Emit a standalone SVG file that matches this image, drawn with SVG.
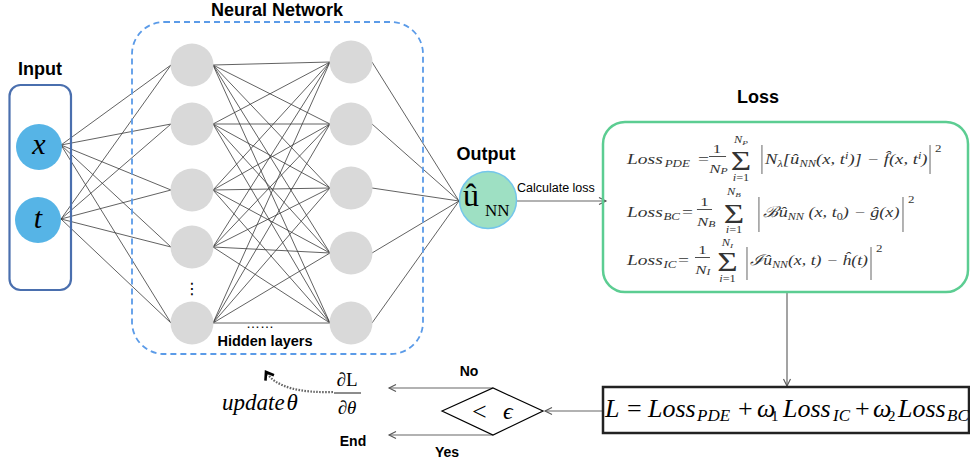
<svg xmlns="http://www.w3.org/2000/svg" width="970" height="466" viewBox="0 0 970 466">
<defs>
<marker id="ah" markerWidth="12" markerHeight="12" refX="8" refY="4" orient="auto" markerUnits="userSpaceOnUse" overflow="visible"><path d="M1,0.5 L8,4 L1,7.5" fill="none" stroke="#555" stroke-width="1.1"/></marker>
<marker id="chev" markerWidth="14" markerHeight="14" refX="7" refY="5" orient="auto" markerUnits="userSpaceOnUse" overflow="visible"><path d="M0,0 L7,5 L0,10" fill="none" stroke="#000" stroke-width="2.6"/></marker>
</defs>
<style>
.t{font-family:"Liberation Sans",Arial,sans-serif;font-weight:bold;fill:#000}
.tn{font-family:"Liberation Sans",Arial,sans-serif;font-weight:normal;fill:#000}
.m{font-family:"Liberation Serif","DejaVu Serif",serif;font-style:italic;fill:#000}
.r{font-family:"Liberation Serif","DejaVu Serif",serif;font-style:normal;fill:#000}
.lf text{fill:#333}
.w{stroke:#3a3a3a;stroke-width:0.8}
.hn{fill:#d9d9d9}
.ar{stroke:#666;stroke-width:1.2;fill:none;marker-end:url(#ah)}
.bar{stroke:#222;stroke-width:0.6}
.fl{stroke:#222;stroke-width:0.7}
</style>
<rect width="970" height="466" fill="#fff"/>

<g id="connectors">
<g class="w">
<line x1="61" y1="145" x2="171" y2="65"/><line x1="61" y1="145" x2="171" y2="124"/><line x1="61" y1="145" x2="171" y2="190"/><line x1="61" y1="145" x2="171" y2="247"/><line x1="61" y1="145" x2="171" y2="323"/>
<line x1="61" y1="219" x2="171" y2="65"/><line x1="61" y1="219" x2="171" y2="124"/><line x1="61" y1="219" x2="171" y2="190"/><line x1="61" y1="219" x2="171" y2="247"/><line x1="61" y1="219" x2="171" y2="323"/>
<line x1="213" y1="65" x2="330" y2="62"/><line x1="213" y1="65" x2="330" y2="124"/><line x1="213" y1="65" x2="330" y2="188"/><line x1="213" y1="65" x2="330" y2="253"/><line x1="213" y1="65" x2="330" y2="323"/>
<line x1="213" y1="124" x2="330" y2="62"/><line x1="213" y1="124" x2="330" y2="124"/><line x1="213" y1="124" x2="330" y2="188"/><line x1="213" y1="124" x2="330" y2="253"/><line x1="213" y1="124" x2="330" y2="323"/>
<line x1="213" y1="190" x2="330" y2="62"/><line x1="213" y1="190" x2="330" y2="124"/><line x1="213" y1="190" x2="330" y2="188"/><line x1="213" y1="190" x2="330" y2="253"/><line x1="213" y1="190" x2="330" y2="323"/>
<line x1="213" y1="247" x2="330" y2="62"/><line x1="213" y1="247" x2="330" y2="124"/><line x1="213" y1="247" x2="330" y2="188"/><line x1="213" y1="247" x2="330" y2="253"/><line x1="213" y1="247" x2="330" y2="323"/>
<line x1="213" y1="323" x2="330" y2="62"/><line x1="213" y1="323" x2="330" y2="124"/><line x1="213" y1="323" x2="330" y2="188"/><line x1="213" y1="323" x2="330" y2="253"/><line x1="213" y1="323" x2="330" y2="323"/>
<line x1="372" y1="62" x2="459" y2="201"/><line x1="372" y1="124" x2="459" y2="201"/><line x1="372" y1="188" x2="459" y2="201"/><line x1="372" y1="253" x2="459" y2="201"/><line x1="372" y1="323" x2="459" y2="201"/>
</g>
<line class="ar" x1="517" y1="201" x2="606" y2="201"/>
<line class="ar" x1="787" y1="293" x2="787" y2="386"/>
<line class="ar" x1="602" y1="411" x2="545" y2="411"/>
<line class="ar" x1="493" y1="388" x2="389" y2="388"/>
<line class="ar" x1="493" y1="435" x2="389" y2="435"/>
<path d="M333,392 C302,393 276,388 266,372" fill="none" stroke="#666" stroke-width="2.2" stroke-dasharray="1.6,1.4" marker-end="url(#chev)"/>
<text class="tn" x="517" y="192" font-size="12.5">Calculate loss</text>
<text class="t" x="469" y="376" font-size="14" text-anchor="middle">No</text>
<text class="t" x="447" y="457" font-size="14" text-anchor="middle">Yes</text>
</g>

<g id="input">
<text class="t" x="40" y="75" font-size="18" text-anchor="middle">Input</text>
<rect x="9.5" y="85" width="61.5" height="205" rx="11" fill="none" stroke="#4a6fae" stroke-width="2.2"/>
<circle cx="39" cy="147" r="23" fill="#56b4e6"/>
<circle cx="38" cy="220" r="23" fill="#56b4e6"/>
<text class="m" x="39" y="154" font-size="30" text-anchor="middle">x</text>
<text class="m" x="38" y="228" font-size="30" text-anchor="middle">t</text>
</g>

<g id="neural-network">
<text class="t" x="277" y="16" font-size="18" text-anchor="middle">Neural Network</text>
<rect x="132" y="22" width="291" height="332" rx="32" fill="none" stroke="#5b9be8" stroke-width="1.8" stroke-dasharray="6,4"/>
<g class="hn">
<circle cx="192" cy="65" r="21.5"/><circle cx="192" cy="124" r="21.5"/><circle cx="192" cy="190" r="21.5"/><circle cx="192" cy="247" r="21.5"/><circle cx="192" cy="323" r="21.5"/>
<circle cx="351" cy="62" r="21.5"/><circle cx="351" cy="124" r="21.5"/><circle cx="351" cy="188" r="21.5"/><circle cx="351" cy="253" r="21.5"/><circle cx="351" cy="323" r="21.5"/>
</g>
<text x="192" y="294" font-family="DejaVu Sans,sans-serif" font-size="16" text-anchor="middle">⋮</text>
<text class="tn" x="260" y="328" font-size="14" text-anchor="middle">……</text>
<text class="t" x="265" y="346" font-size="14.5" text-anchor="middle">Hidden layers</text>
</g>

<g id="output">
<text class="t" x="486" y="160" font-size="18" text-anchor="middle">Output</text>
<circle cx="488" cy="200" r="28.5" fill="#9ee0c3" stroke="#74c6ea" stroke-width="1.5"/>
<text class="r" x="463" y="206" font-size="32">û</text>
<text class="r" x="485" y="216" font-size="17">NN</text>
</g>

<g id="loss">
<text class="t" x="758" y="103" font-size="18" text-anchor="middle">Loss</text>
<rect x="603" y="122" width="365" height="170" rx="22" fill="none" stroke="#5ccd92" stroke-width="2.5"/>
<g transform="translate(627,164) scale(1.3,1)" class="m lf" font-size="15">
<text x="0" y="0">Loss</text>
<text x="29" y="3" font-size="10">PDE</text>
<text x="54.6" y="0" class="r">=</text>
<text x="69.2" y="-11" class="r" font-size="13" text-anchor="middle">1</text>
<line class="fl" x1="63.1" y1="-7.5" x2="76.2" y2="-7.5"/>
<text x="63.3" y="8.5" font-size="13">N<tspan font-size="9" dy="2">P</tspan></text>
<text x="87.7" y="6" class="r" font-size="27" text-anchor="middle">Σ</text>
<text x="87.7" y="-21" font-size="9.5" text-anchor="middle">N<tspan font-size="7" dy="1.5">P</tspan></text>
<text x="87.7" y="17" class="r" font-size="9.5" text-anchor="middle"><tspan font-style="italic">i</tspan>=1</text>
<line class="bar" x1="103.8" y1="-19" x2="103.8" y2="10"/>
<text x="106.2" y="0" textLength="125" lengthAdjust="spacingAndGlyphs">N<tspan font-size="10" dy="2.5">λ</tspan><tspan dy="-2.5">[û</tspan><tspan font-size="10" dy="2.5">NN</tspan><tspan dy="-2.5">(x, t</tspan><tspan font-size="10" dy="-5">i</tspan><tspan dy="5">)] − f̂(x, t</tspan><tspan font-size="10" dy="-5">i</tspan><tspan dy="5">)</tspan></text>
<line class="bar" x1="233.1" y1="-19" x2="233.1" y2="10"/>
<text x="236.9" y="-12" class="r" font-size="10">2</text>
</g>
<g transform="translate(627,217) scale(1.3,1)" class="m lf" font-size="15">
<text x="0" y="0">Loss</text>
<text x="28" y="3" font-size="10">BC</text>
<text x="42.3" y="0" class="r">=</text>
<text x="59.6" y="-11" class="r" font-size="13" text-anchor="middle">1</text>
<line class="fl" x1="53.8" y1="-7.5" x2="65.4" y2="-7.5"/>
<text x="53.8" y="8.5" font-size="13">N<tspan font-size="9" dy="2">B</tspan></text>
<text x="82.3" y="6" class="r" font-size="27" text-anchor="middle">Σ</text>
<text x="82.3" y="-22" font-size="9.5" text-anchor="middle">N<tspan font-size="7" dy="1.5">B</tspan></text>
<text x="82.3" y="16" class="r" font-size="9.5" text-anchor="middle"><tspan font-style="italic">i</tspan>=1</text>
<line class="bar" x1="101.5" y1="-20" x2="101.5" y2="15"/>
<text x="104.6" y="0" textLength="105" lengthAdjust="spacingAndGlyphs">ℬû<tspan font-size="10" dy="2.5">NN</tspan><tspan dy="-2.5"> (x, t</tspan><tspan font-size="10" dy="2.5" font-style="normal">0</tspan><tspan dy="-2.5">) − ĝ(x)</tspan></text>
<line class="bar" x1="212.3" y1="-20" x2="212.3" y2="15"/>
<text x="216.2" y="-14" class="r" font-size="10">2</text>
</g>
<g transform="translate(627,265) scale(1.3,1)" class="m lf" font-size="15">
<text x="0" y="0">Loss</text>
<text x="28" y="3" font-size="10">IC</text>
<text x="39.2" y="0" class="r">=</text>
<text x="58" y="-11" class="r" font-size="13" text-anchor="middle">1</text>
<line class="fl" x1="52.3" y1="-7.5" x2="63.8" y2="-7.5"/>
<text x="52.5" y="8.5" font-size="13">N<tspan font-size="9" dy="2">I</tspan></text>
<text x="77.3" y="6" class="r" font-size="27" text-anchor="middle">Σ</text>
<text x="77.3" y="-19" font-size="9.5" text-anchor="middle">N<tspan font-size="7" dy="1.5">I</tspan></text>
<text x="77.3" y="17" class="r" font-size="9.5" text-anchor="middle"><tspan font-style="italic">i</tspan>=1</text>
<line class="bar" x1="92.3" y1="-18" x2="92.3" y2="15"/>
<text x="94.6" y="0" textLength="90.8" lengthAdjust="spacingAndGlyphs">ℐû<tspan font-size="10" dy="2.5">NN</tspan><tspan dy="-2.5">(x, t) − ĥ(t)</tspan></text>
<line class="bar" x1="187.7" y1="-18" x2="187.7" y2="15"/>
<text x="191.5" y="-13" class="r" font-size="10">2</text>
</g>
</g>

<g id="total-loss">
<rect x="603" y="387" width="366" height="46" fill="none" stroke="#222" stroke-width="2.5"/>
<g class="m" font-size="26">
<text x="605" y="417">L</text>
<text x="627" y="417" class="r">=</text>
<text x="648" y="417">Loss</text>
<text x="697" y="421" font-size="17">PDE</text>
<text x="738" y="417" class="r">+</text>
<text x="757" y="417">ω</text>
<text x="771" y="421" font-size="15" class="r">1</text>
<text x="783" y="417">Loss</text>
<text x="833" y="421" font-size="17">IC</text>
<text x="855" y="417" class="r">+</text>
<text x="873" y="417">ω</text>
<text x="888" y="421" font-size="15" class="r">2</text>
<text x="898" y="417">Loss</text>
<text x="947" y="421" font-size="17">BC</text>
</g>
</g>

<g id="check">
<polygon points="442,411 493,388 543,411 493,435" fill="#fff" stroke="#000" stroke-width="1.2"/>
<text class="r" x="472" y="420" font-size="26">&lt;</text>
<text class="m" x="503" y="419" font-size="24">ϵ</text>
</g>

<g id="update">
<text class="r" x="347" y="386" font-size="19" text-anchor="middle">∂L</text>
<line x1="334" y1="393" x2="361" y2="393" stroke="#000" stroke-width="0.9"/>
<text class="r" x="347" y="414" font-size="19" text-anchor="middle">∂<tspan font-style="italic">θ</tspan></text>
<text class="m" x="222" y="410" font-size="23">update<tspan dx="2">θ</tspan></text>
</g>

<g id="end">
<text class="t" x="353" y="446" font-size="14" text-anchor="middle">End</text>
</g>
</svg>
